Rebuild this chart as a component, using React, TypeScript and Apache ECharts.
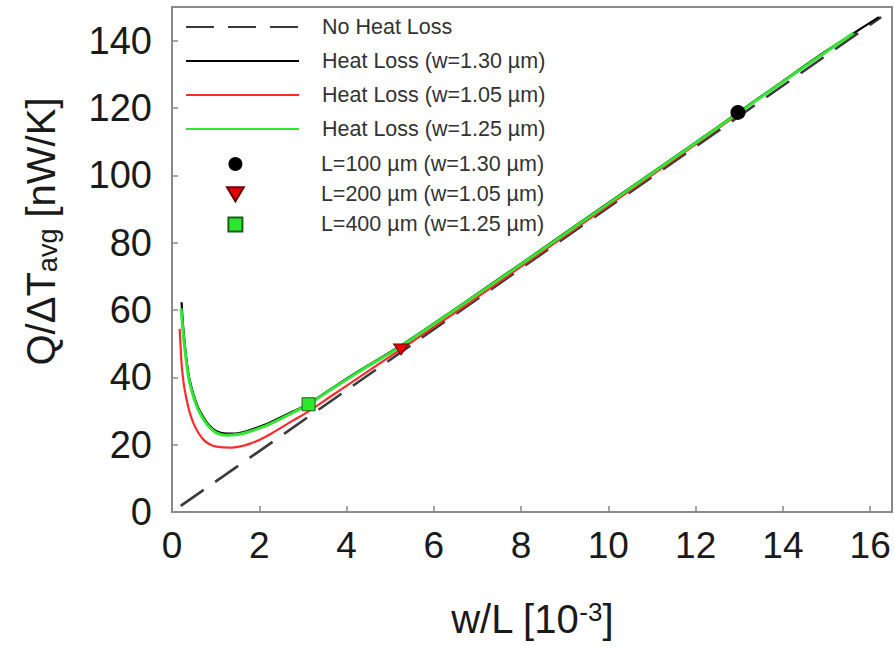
import React, { useEffect, useRef } from "react";
import * as echarts from "echarts";

const FONT = "'Liberation Sans', Arial, Helvetica, sans-serif";

// Dashed reference line (No Heat Loss), read at its two ends
const noHeatLoss: [number, number][] = [
  [0.2, 1.8],
  [16.25, 147],
];

// Heat loss curve, w = 1.30 um
const heatLoss130: [number, number][] = [
  [0.22, 62.3], [0.25, 56], [0.3, 49], [0.35, 43.5], [0.4, 39.5], [0.49, 35],
  [0.6, 31], [0.72, 28.2], [0.85, 25.8], [1.02, 24], [1.25, 23.3], [1.5, 23.4],
  [1.71, 24], [2.0, 25.3], [2.25, 26.6], [2.78, 29.9], [3.13, 32.2], [3.6, 36.2],
  [4.31, 42.1], [5.23, 49.3], [6.61, 61.4], [8, 73.8], [10, 91.8], [12, 109.8],
  [13, 118.9], [14, 128], [15, 137], [16.2, 147],
];

// Heat loss curve, w = 1.05 um
const heatLoss105: [number, number][] = [
  [0.175, 54.4], [0.2, 48.5], [0.22, 44], [0.27, 38], [0.34, 33.1], [0.4, 29.8],
  [0.49, 26.4], [0.6, 23.6], [0.72, 21.5], [0.85, 20.2], [1.02, 19.4], [1.33, 19.1],
  [1.6, 19.6], [1.79, 20.3], [2.0, 21.4], [2.25, 23.1], [2.78, 27.2], [3.13, 29.9],
  [3.6, 34], [4.31, 40.2], [5.23, 48.2], [6.61, 60.3], [8, 72.9], [10, 91],
  [12, 109.2], [13.1, 119.3],
];

// Heat loss curve, w = 1.25 um
const heatLoss125: [number, number][] = [
  [0.21, 60.5], [0.25, 54], [0.3, 47.8], [0.35, 42.5], [0.4, 38.7], [0.49, 34.3],
  [0.6, 30.4], [0.72, 27.6], [0.85, 25.3], [1.02, 23.5], [1.25, 22.8], [1.5, 23],
  [1.71, 23.6], [2.0, 24.9], [2.25, 26.2], [2.78, 29.6], [3.13, 32], [3.6, 36],
  [4.31, 41.9], [5.23, 49.1], [6.61, 61.2], [8, 73.6], [10, 91.6], [12, 109.6],
  [13, 118.7], [14, 127.8], [15, 136.8], [15.62, 142.3],
];

// Measured points
const pointL100: [number, number][] = [[12.97, 118.7]];
const pointL200: [number, number][] = [[5.25, 48.3]];
const pointL400: [number, number][] = [[3.13, 32]];

const seriesNames = [
  "No Heat Loss",
  "Heat Loss (w=1.30 µm)",
  "Heat Loss (w=1.05 µm)",
  "Heat Loss (w=1.25 µm)",
  "L=100 µm (w=1.30 µm)",
  "L=200 µm (w=1.05 µm)",
  "L=400 µm (w=1.25 µm)",
];

const AXIS_COLOR = "#8a8a8a";
const TEXT_COLOR = "#1a1a1a";

export default function App() {
  const ref = useRef<HTMLDivElement>(null);

  useEffect(() => {
    document.body.style.margin = "0";
    const chart = echarts.init(ref.current!, undefined, { renderer: "svg" });

    const legendText = (pad: number) => ({
      fontSize: 21.5,
      color: "#333",
      fontFamily: FONT,
      lineHeight: 20,
      padding: [0, 0, 0, pad],
    });

    chart.setOption({
      animation: false,
      textStyle: { fontFamily: FONT },
      grid: {
        left: 172,
        right: 2,
        top: 7,
        bottom: 135,
        show: true,
        borderColor: AXIS_COLOR,
        borderWidth: 2,
        backgroundColor: "transparent",
      },
      legend: [
        {
          orient: "vertical",
          left: 180,
          top: 11,
          itemWidth: 113,
          itemHeight: 14,
          itemGap: 12,
          selectedMode: false,
          data: seriesNames.slice(0, 4).map((name) => ({
            name,
            itemStyle: { opacity: 0 },
          })),
          textStyle: legendText(18),
        },
        {
          orient: "vertical",
          left: 221,
          top: 148,
          itemWidth: 113,
          itemHeight: 14,
          itemGap: 8.2,
          selectedMode: false,
          data: seriesNames.slice(4),
          textStyle: legendText(24),
        },
      ],
      xAxis: {
        type: "value",
        min: 0,
        max: 16.5,
        interval: 2,
        axisLine: { show: true, onZero: false, lineStyle: { color: AXIS_COLOR, width: 2 } },
        axisTick: { show: true, inside: true, length: 6, lineStyle: { color: AXIS_COLOR, width: 1.5 } },
        splitLine: { show: false },
        axisLabel: {
          fontSize: 37,
          color: TEXT_COLOR,
          margin: 15,
          showMaxLabel: false,
          fontFamily: FONT,
        },
        name: "w/L [10{sup|-3}]",
        nameLocation: "middle",
        nameGap: 87,
        nameTextStyle: {
          fontSize: 40,
          color: TEXT_COLOR,
          fontFamily: FONT,
          rich: {
            sup: { fontSize: 26, lineHeight: 8, verticalAlign: "top", color: TEXT_COLOR, fontFamily: FONT },
          },
        },
      },
      yAxis: {
        type: "value",
        min: 0,
        max: 150,
        interval: 20,
        axisLine: { show: true, onZero: false, lineStyle: { color: AXIS_COLOR, width: 2 } },
        axisTick: { show: true, inside: true, length: 6, lineStyle: { color: AXIS_COLOR, width: 1.5 } },
        splitLine: { show: false },
        axisLabel: {
          fontSize: 38,
          color: TEXT_COLOR,
          margin: 20,
          showMaxLabel: false,
          fontFamily: FONT,
        },
        name: "Q/ΔT{sub|avg} [nW/K]",
        nameLocation: "middle",
        nameRotate: 90,
        nameGap: 111,
        nameTextStyle: {
          fontSize: 40,
          color: TEXT_COLOR,
          fontFamily: FONT,
          padding: [0, 0, 0, 56],
          rich: {
            sub: { fontSize: 27, lineHeight: 8, verticalAlign: "bottom", color: TEXT_COLOR, fontFamily: FONT },
          },
        },
      },
      series: [
        {
          name: seriesNames[0],
          type: "line",
          data: noHeatLoss,
          symbol: "none",
          z: 1,
          lineStyle: { color: "#3a3a3a", width: 2.6, type: [28, 14] },
          itemStyle: { color: "#3a3a3a" },
        },
        {
          name: seriesNames[1],
          type: "line",
          data: heatLoss130,
          symbol: "none",
          smooth: 0.3,
          z: 2,
          lineStyle: { color: "#000000", width: 2.2 },
          itemStyle: { color: "#000000" },
        },
        {
          name: seriesNames[2],
          type: "line",
          data: heatLoss105,
          symbol: "none",
          smooth: 0.3,
          z: 3,
          lineStyle: { color: "#ff2a2a", width: 2.2 },
          itemStyle: { color: "#ff2a2a" },
        },
        {
          name: seriesNames[3],
          type: "line",
          data: heatLoss125,
          symbol: "none",
          smooth: 0.3,
          z: 4,
          lineStyle: { color: "#33e633", width: 3 },
          itemStyle: { color: "#33e633" },
        },
        {
          name: seriesNames[4],
          type: "scatter",
          data: pointL100,
          symbol: "circle",
          symbolSize: 15,
          z: 5,
          itemStyle: { color: "#000000", opacity: 1 },
        },
        {
          name: seriesNames[5],
          type: "scatter",
          data: pointL200,
          symbol: "path://M0,0H12L6,10Z",
          symbolKeepAspect: true,
          symbolSize: [15, 13],
          z: 5,
          itemStyle: { color: "#e80000", borderColor: "#6a0000", borderWidth: 1, opacity: 1 },
        },
        {
          name: seriesNames[6],
          type: "scatter",
          data: pointL400,
          symbol: "path://M0,0H10V10H0Z",
          symbolKeepAspect: true,
          symbolSize: [13, 13],
          z: 5,
          itemStyle: { color: "#2ce82c", borderColor: "#1d5e1d", borderWidth: 1, opacity: 1 },
        },
      ],
    });

    return () => chart.dispose();
  }, []);

  return <div ref={ref} style={{ width: 894, height: 647 }} />;
}
